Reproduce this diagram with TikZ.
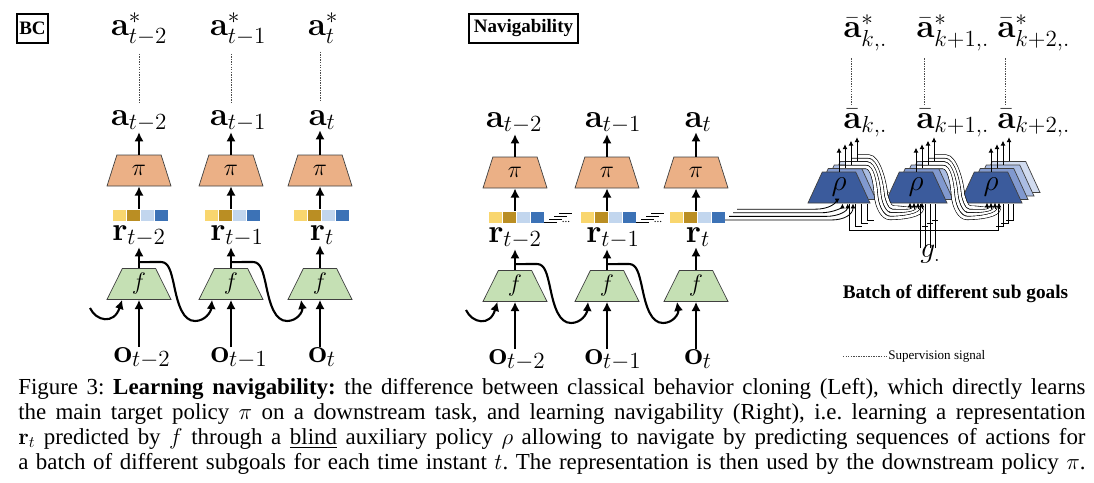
\documentclass[tikz,border=0pt]{standalone}
\usepackage{fix-cm}
\usepackage{amsmath,amssymb}
\usepackage[no-math]{fontspec}
\setmainfont{Liberation Serif}
\usetikzlibrary{shapes.geometric,arrows.meta}
\frenchspacing

\definecolor{pifill}{HTML}{EBB086}
\definecolor{ffill}{HTML}{C5E0B4}
\definecolor{sqa}{HTML}{F9D66E}
\definecolor{sqb}{HTML}{BA8E23}
\definecolor{sqc}{HTML}{C2D6EE}
\definecolor{sqd}{HTML}{3C72B6}
\definecolor{rhoa}{HTML}{3B5B9C}
\definecolor{rhob}{HTML}{8199CF}
\definecolor{rhoc}{HTML}{ABBDE3}
\definecolor{rhod}{HTML}{D2DCF0}

\newcommand{\capline}[1]{\hbox to 26.675cm{#1}}

\tikzset{
  trap/.style={trapezium, trapezium angle=73, trapezium stretches=true,
    minimum width=1.6cm, minimum height=0.775cm, inner sep=0pt,
    draw=black!75, line width=0.5pt},
  pihead/.style={trap, fill=pifill, font=\fontsize{17}{17}\selectfont},
  fenc/.style={trap, fill=ffill, font=\fontsize{17}{17}\selectfont},
  rhohead/.style={trap, trapezium angle=71, minimum width=1.55cm,
    fill=rhoa, font=\fontsize{21}{21}\selectfont},
  lbl/.style={inner sep=0pt, anchor=base, font=\fontsize{23.5}{23.5}\selectfont},
  tagbox/.style={draw, line width=0.9pt, inner sep=0pt, minimum height=0.725cm,
    font=\fontsize{13.5}{13.5}\selectfont\bfseries},
  flow/.style={-{Latex[length=6.5pt,width=6.5pt]}, line width=1.6pt},
  recur/.style={-{Latex[length=6.5pt,width=6.5pt]}, line width=1.5pt},
  thinflow/.style={-{Latex[length=3.5pt,width=3.5pt]}, line width=0.7pt},
  wire/.style={line width=0.6pt},
  band/.style={draw=black, line width=0.45pt, double=white, double distance=2pt},
  supline/.style={dash pattern=on 1pt off 0.8pt, line width=0.45pt, black!70},
  capstyle/.style={anchor=base west, inner sep=0pt, font=\fontsize{16.3}{19}\selectfont},
}

\begin{document}
\begin{tikzpicture}[x=0.025cm, y=-0.025cm]
\useasboundingbox (0,0) rectangle (1094,482);

% Panel tags
\node[tagbox, minimum width=0.775cm] (bc) at (32.5,28.5) {BC};
\node[tagbox, minimum width=2.725cm] (nav) at (523.5,28.5) {Navigability};

% Policy heads and encoders (BC: 1-3, navigability: 4-6)
\node[pihead] (pi1) at (139,170.5) {$\pi$};
\node[pihead] (pi2) at (231,170.5) {$\pi$};
\node[pihead] (pi3) at (320,170.5) {$\pi$};
\node[pihead] (pi4) at (515,172.5) {$\pi$};
\node[pihead] (pi5) at (607,172.5) {$\pi$};
\node[pihead] (pi6) at (696,172.5) {$\pi$};
\node[fenc] (f1) at (139,284) {$f$};
\node[fenc] (f2) at (231,284) {$f$};
\node[fenc] (f3) at (320,284) {$f$};
\node[fenc] (f4) at (515,286) {$f$};
\node[fenc] (f5) at (607,286) {$f$};
\node[fenc] (f6) at (696,286) {$f$};

% Target actions
\node[lbl] (as1) at (139,35) {$\mathbf{a}^*_{t-2}$};
\node[lbl] (as2) at (238,35) {$\mathbf{a}^*_{t-1}$};
\node[lbl] (as3) at (323,35) {$\mathbf{a}^*_{t}$};

% Actions, representations, observations
\node[lbl] (a1) at (139,125) {$\mathbf{a}_{t-2}$};
\node[lbl] (a2) at (238,125) {$\mathbf{a}_{t-1}$};
\node[lbl] (a3) at (322,125) {$\mathbf{a}_{t}$};
\node[lbl] (a4) at (514,127) {$\mathbf{a}_{t-2}$};
\node[lbl] (a5) at (613,127) {$\mathbf{a}_{t-1}$};
\node[lbl] (a6) at (698,127) {$\mathbf{a}_{t}$};
\node[lbl] (r1) at (139,240) {$\mathbf{r}_{t-2}$};
\node[lbl] (r2) at (237,240) {$\mathbf{r}_{t-1}$};
\node[lbl] (r3) at (322,240) {$\mathbf{r}_{t}$};
\node[lbl] (r4) at (515,242) {$\mathbf{r}_{t-2}$};
\node[lbl] (r5) at (613,242) {$\mathbf{r}_{t-1}$};
\node[lbl] (r6) at (698,242) {$\mathbf{r}_{t}$};
\node[lbl] (o1) at (142,362) {$\mathbf{o}_{t-2}$};
\node[lbl] (o2) at (239,362) {$\mathbf{o}_{t-1}$};
\node[lbl] (o3) at (322,362) {$\mathbf{o}_{t}$};
\node[lbl] (o4) at (517,364) {$\mathbf{o}_{t-2}$};
\node[lbl] (o5) at (613,364) {$\mathbf{o}_{t-1}$};
\node[lbl] (o6) at (698,364) {$\mathbf{o}_{t}$};

% Representation vectors
\foreach \c/\y in {139/210,231/210,320/210,515/212,607/212,696/212}
  \foreach \k/\col in {0/sqa,1/sqb,2/sqc,3/sqd}
    \fill[\col] (\c-26+14*\k,\y) rectangle ++(13,11);

% Vertical flow
\foreach \i/\y in {1/209,2/209,3/209,4/211,5/211,6/211} {
  \draw[flow] (o\i.north -| f\i.south) -- (f\i.south);
  \draw[flow] (f\i.north) -- (f\i.north |- r\i.south);
  \draw[flow] (pi\i.south |- 0,\y) -- (pi\i.south);
  \draw[flow] (pi\i.north) -- (pi\i.north |- a\i.south);
}

% Supervision (BC)
\foreach \i in {1,2,3}
  \draw[supline, shorten <=6pt, shorten >=5.5pt] (pi\i.north |- as\i.south) -- (pi\i.north |- a\i.north);

% Recurrent connections of f
\foreach \i/\j/\c/\dy in {1/2/139/0,2/3/231/0,4/5/515/2,5/6/607/2}
  \draw[recur] ([yshift=4.3pt]f\i.north) -- (\c+22,262+\dy)
    .. controls (\c+30,262+\dy) and (\c+32,272+\dy) .. (\c+35,285+\dy)
    .. controls (\c+39,305+\dy) and (\c+44,321+\dy) .. (\c+56,321+\dy)
    .. controls (\c+66,321+\dy) and (\c+72,312+\dy) .. ([xshift=-13.5pt]f\j.south);
\coordinate (h1) at (90,308);
\coordinate (h4) at (466,310);
\draw[recur] (h1) .. controls (96,321) and (114,325) .. ([xshift=-12pt]f1.south);
\draw[recur] (h4) .. controls (472,323) and (490,327) .. ([xshift=-12.5pt]f4.south);

% Truncated outputs of r_{t-2}, r_{t-1}
\foreach \c in {515,607} {
  \foreach \k in {0,...,3}
    \draw[wire] (\c+29+5*\k,222-3*\k) -- (\c+42+5*\k,222-3*\k);
  \node[anchor=base, inner sep=0pt, font=\fontsize{8}{8}\selectfont] at (\c+51,222.5) {...};
}

% Auxiliary policies rho
\foreach \c [count=\j] in {839,916,991} {
  \foreach \i/\col in {3/rhod,2/rhoc,1/rhob}
    \node[rhohead, fill=\col] (rho\j\i) at (\c+6*\i,187.5-3.5*\i) {\phantom{$\rho$}};
  \node[rhohead] (rho\j0) at (\c,187.5) {$\rho$};
}

% r_t into rho
\foreach \k in {0,...,3}
  \draw[thinflow, line width=0.6pt] (725+4*\k,220-3.6*\k) -- (831-5.3*\k,220-3.6*\k)
    .. controls (845-5.3*\k,220-3.6*\k) and (853-5.3*\k,214-3.6*\k) .. (853-5.3*\k,203.5);

% Recurrent connections of rho
\foreach \c in {839,916}
  \foreach \i in {3,2,1,0} {
    \draw[band] (\c+6*\i,167-3.5*\i) -- (\c+27+\i,167-3.5*\i)
      .. controls (\c+33+2*\i,167-3.5*\i) and (\c+36+3.3*\i,181) .. (\c+37+3.3*\i,195)
      .. controls (\c+38+3.3*\i,208-3.5*\i) and (\c+44+2*\i,218-3.5*\i) .. (\c+51+\i,218-3.5*\i)
      .. controls (\c+62+\i,218-3.5*\i) and (\c+83-4*\i,216-2*\i) .. (\c+83-4*\i,208);
    \draw[thinflow] (\c+83-4*\i,209) -- (\c+83-4*\i,202.5);
  }

% Predicted action sequences
\foreach \j in {1,2,3}
  \foreach \i in {3,2,1,0}
    \draw[thinflow] (rho\j\i.north) -- ++(0,-24);

% Sub goals
\node[lbl, anchor=base west, font=\fontsize{21}{21}\selectfont] (g) at (920,257) {$g_{.}$};
\draw[wire] (920,248) -- (920,203.5);
\draw[wire] (849,203.5) -- (849,230) -- (998,230) -- (998,203.5);
\foreach \i in {1,2,3} {
  \draw[wire] (920+5*\i,248) -- (920+5*\i,203.5);
  \draw[wire] (917+5*\i,230-3.3*\i) -- (923+5*\i,230-3.3*\i);
  \draw[wire] (849+6*\i,203.5) -- (849+6*\i,230-3.3*\i) -- ++(7,0);
  \draw[wire] (998+5*\i,203.5) -- (998+5*\i,230-3.3*\i) -- ++(-7,0);
}
\node[anchor=base, inner sep=0pt, font=\fontsize{13.7}{13.7}\selectfont\bfseries] (batch) at (955.5,298) {Batch of different sub goals};

% Sub goal actions and their targets
\node[lbl, anchor=base west] (abs1) at (843,37) {$\bar{\mathbf{a}}^*_{k,.}$};
\node[lbl, anchor=base west] (abs2) at (916,37) {$\bar{\mathbf{a}}^*_{k+1,.}$};
\node[lbl, anchor=base west] (abs3) at (997,37) {$\bar{\mathbf{a}}^*_{k+2,.}$};
\node[lbl, anchor=base west] (ab1) at (843,128) {$\bar{\mathbf{a}}_{k,.}$};
\node[lbl, anchor=base west] (ab2) at (916,128) {$\bar{\mathbf{a}}_{k+1,.}$};
\node[lbl, anchor=base west] (ab3) at (997,128) {$\bar{\mathbf{a}}_{k+2,.}$};
\foreach \j in {1,2,3}
  \draw[supline, shorten <=5pt, shorten >=3pt] ([xshift=6pt]abs\j.south west) -- ([xshift=6pt]ab\j.north west);

% Legend
\coordinate (leg) at (843,356);
\node[anchor=base west, inner sep=0pt, font=\fontsize{9.3}{9.3}\selectfont] (legtext) at (888,359) {Supervision signal};
\draw[supline] (leg) -- (legtext.west |- leg);

% Caption
\node[capstyle] (cap1) at (18,394) {\capline{Figure 3: \textbf{Learning navigability:} the difference between classical behavior cloning (Left), which directly learns}};
\node[capstyle] (cap2) at (18,419) {\capline{the main target policy $\pi$ on a downstream task, and learning navigability (Right), i.e. learning a representation}};
\node[capstyle] (cap3) at (18,444) {\capline{$\mathbf{r}_t$ predicted by $f$ through a \underline{blind} auxiliary policy $\rho$ allowing to navigate by predicting sequences of actions for}};
\node[capstyle] (cap4) at (18,469) {\capline{a batch of different subgoals for each time instant $t$. The representation is then used by the downstream policy $\pi$.}};
\end{tikzpicture}
\end{document}
